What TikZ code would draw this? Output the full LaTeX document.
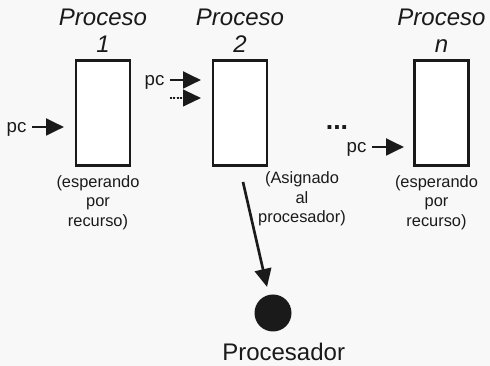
\documentclass[tikz,border=0pt]{standalone}
\usepackage{fontspec}
\setmainfont{Liberation Sans}
\usetikzlibrary{arrows.meta,positioning}
\definecolor{inkblack}{HTML}{1A1A1A}
\definecolor{paper}{HTML}{F8F8F8}

\begin{document}
\begin{tikzpicture}[x=0.75pt, y=-0.75pt, >={Triangle[length=13.5pt,width=12.5pt]}, font=\fontsize{12.3}{14.6}\selectfont]
  \tikzset{proc/.style={draw=inkblack, fill=white, line width=2.2pt, minimum width=40.5pt, minimum height=78.75pt, inner sep=0pt},
    title/.style={font=\fontsize{18}{20.25}\selectfont\itshape, align=center, inner sep=1pt, text=inkblack},
    note/.style={align=center, inner sep=1pt, text=inkblack},
    pclabel/.style={font=\fontsize{14}{16}\selectfont, inner sep=4pt, text depth=0pt, text=inkblack},
    feed/.style={->, line width=2.2pt, draw=inkblack, fill=inkblack}}
  \useasboundingbox[fill=paper] (0,0) rectangle (490,366);
  % the three processes
  \node[proc] (p1) at (103,113) {};
  \node[proc] (p2) at (240,113) {};
  \node[proc] (pn) at (441.5,113) {};
  \node[title, above=4pt of p1] (t1) {Proceso\\1};
  \node[title, above=4pt of p2] (t2) {Proceso\\2};
  \node[title, above=4pt of pn] (tn) {Proceso\\n};
  \node[note, below=5pt of p1, xshift=-3.75pt] (s1) {(esperando\\por\\recurso)};
  \node[note] (s2) at (302,199) {(Asignado\\al\\procesador)};
  \node[note, below=5pt of pn, xshift=-3.75pt] (sn) {(esperando\\por\\recurso)};
  \node[font=\fontsize{20}{20}\selectfont\bfseries, text=inkblack] (gap) at (337,128) {...};
  % program counters
  \coordinate (in1) at (64,127);
  \coordinate (in2) at (201,80);
  \coordinate (in2b) at (201,98);
  \coordinate (d2) at (170,98);
  \coordinate (inn) at (404,147);
  \node[pclabel, left=24pt of in1] (pc1) {pc};
  \node[pclabel, left=23.25pt of in2] (pc2) {pc};
  \node[pclabel, left=24pt of inn] (pcn) {pc};
  \draw[feed] (pc1) -- (in1);
  \draw[feed] (pc2) -- (in2);
  \draw[feed] (pcn) -- (inn);
  \draw[feed, line width=1.6pt, dash pattern=on 1.3pt off 1.3pt] (d2) -- (in2b);
  % processor
  \node[circle, fill=inkblack, minimum size=27.75pt, inner sep=0pt] (cpu) at (273,313) {};
  \node[font=\fontsize{18}{20}\selectfont, inner sep=1pt, text=inkblack, below=7pt of cpu, xshift=8pt] (cpulabel) {Procesador};
  \coordinate (out2) at (243,182);
  \draw[feed, line width=2pt, shorten >=6pt] (out2) -- (cpu);
\end{tikzpicture}
\end{document}
